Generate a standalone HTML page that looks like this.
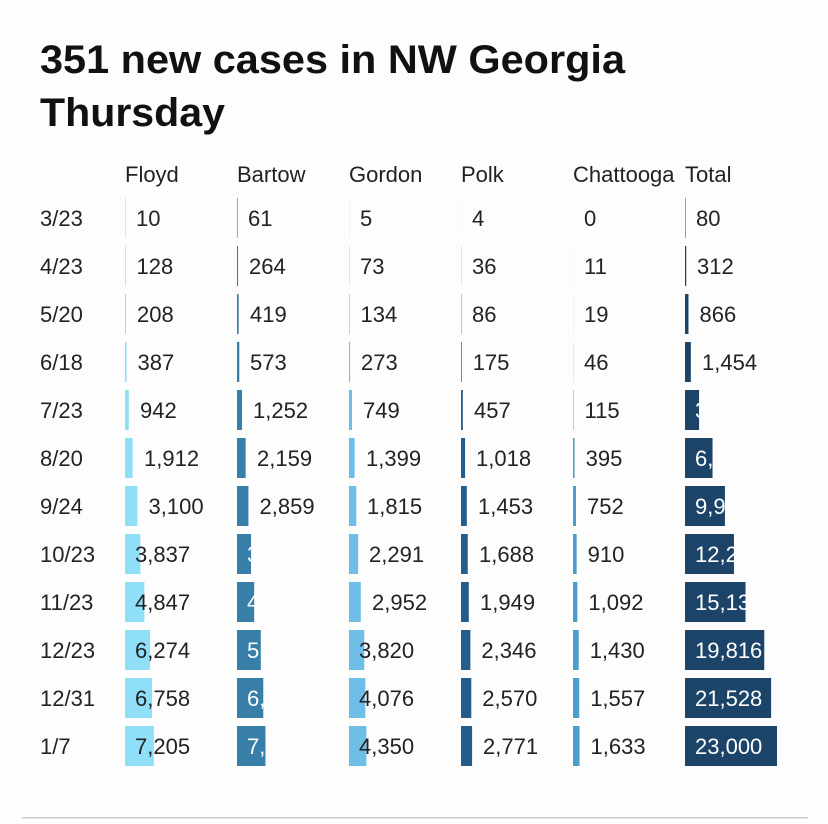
<!DOCTYPE html>
<html><head><meta charset="utf-8"><style>
html,body{margin:0;padding:0;background:#fdfdfd;}
svg{display:block;font-family:"Liberation Sans",sans-serif;}
.t{font-size:22px;fill:#222}
.w{font-size:22px;fill:#fff}
</style></head><body>
<svg width="828" height="824" viewBox="0 0 828 824">
<rect width="828" height="824" fill="#fdfdfd"/>
<text x="40" y="73" font-size="40" font-weight="bold" fill="#111" textLength="585" lengthAdjust="spacingAndGlyphs">351 new cases in NW Georgia</text>
<text x="40" y="126" font-size="40" font-weight="bold" fill="#111" textLength="185" lengthAdjust="spacingAndGlyphs">Thursday</text>
<g class="t">
<text x="125" y="182" class="t">Floyd</text><text x="237" y="182" class="t">Bartow</text><text x="349" y="182" class="t">Gordon</text><text x="461" y="182" class="t">Polk</text><text x="573" y="182" class="t">Chattooga</text><text x="685" y="182" class="t">Total</text>
</g>
<g class="t">
<text x="40" y="226" class="t">3/23</text><text x="40" y="274" class="t">4/23</text><text x="40" y="322" class="t">5/20</text><text x="40" y="370" class="t">6/18</text><text x="40" y="418" class="t">7/23</text><text x="40" y="466" class="t">8/20</text><text x="40" y="514" class="t">9/24</text><text x="40" y="562" class="t">10/23</text><text x="40" y="610" class="t">11/23</text><text x="40" y="658" class="t">12/23</text><text x="40" y="706" class="t">12/31</text><text x="40" y="754" class="t">1/7</text>
</g>
<!-- Floyd -->
<g fill="#8fdff8">
<rect x="125" y="198" width="0.5" height="40"/><rect x="125" y="246" width="0.6" height="40"/><rect x="125" y="294" width="0.9" height="40"/><rect x="125" y="342" width="1.55" height="40"/><rect x="125" y="390" width="3.77" height="40"/><rect x="125" y="438" width="7.65" height="40"/><rect x="125" y="486" width="12.4" height="40"/><rect x="125" y="534" width="15.35" height="40"/><rect x="125" y="582" width="19.39" height="40"/><rect x="125" y="630" width="25.1" height="40"/><rect x="125" y="678" width="27.03" height="40"/><rect x="125" y="726" width="28.82" height="40"/>
</g>
<text class="t" x="136" y="226">10</text><text class="t" x="136.5" y="274">128</text><text class="t" x="137" y="322">208</text><text class="t" x="137.5" y="370">387</text><text class="t" x="140" y="418">942</text><text class="t" x="144" y="466">1,912</text><text class="t" x="148.5" y="514">3,100</text><text class="t" x="135" y="562">3,837</text><text class="t" x="135" y="610">4,847</text><text class="t" x="135" y="658">6,274</text><text class="t" x="135" y="706">6,758</text><text class="t" x="135" y="754">7,205</text>
<!-- Bartow -->
<g fill="#377fa9">
<rect x="237" y="198" width="0.6" height="40"/><rect x="237" y="246" width="1.06" height="40"/><rect x="237" y="294" width="1.68" height="40"/><rect x="237" y="342" width="2.29" height="40"/><rect x="237" y="390" width="5.01" height="40"/><rect x="237" y="438" width="8.64" height="40"/><rect x="237" y="486" width="11.44" height="40"/><rect x="237" y="534" width="14.04" height="40"/><rect x="237" y="582" width="17.17" height="40"/><rect x="237" y="630" width="23.78" height="40"/><rect x="237" y="678" width="26.27" height="40"/><rect x="237" y="726" width="28.48" height="40"/>
</g>
<text class="t" x="248" y="226">61</text><text class="t" x="249" y="274">264</text><text class="t" x="250" y="322">419</text><text class="t" x="250" y="370">573</text><text class="t" x="253" y="418">1,252</text><text class="t" x="257" y="466">2,159</text><text class="t" x="259.5" y="514">2,859</text><text class="w" x="247" y="562">3,511</text><text class="w" x="247" y="610">4,292</text><text class="w" x="247" y="658">5,946</text><text class="w" x="247" y="706">6,567</text><text class="w" x="247" y="754">7,121</text>
<!-- Gordon -->
<g fill="#6fbee8">
<rect x="349" y="198" width="0.1" height="40"/><rect x="349" y="246" width="0.29" height="40"/><rect x="349" y="294" width="0.54" height="40"/><rect x="349" y="342" width="1.09" height="40"/><rect x="349" y="390" width="3.0" height="40"/><rect x="349" y="438" width="5.6" height="40"/><rect x="349" y="486" width="7.26" height="40"/><rect x="349" y="534" width="9.16" height="40"/><rect x="349" y="582" width="11.81" height="40"/><rect x="349" y="630" width="15.28" height="40"/><rect x="349" y="678" width="16.3" height="40"/><rect x="349" y="726" width="17.4" height="40"/>
</g>
<text class="t" x="360" y="226">5</text><text class="t" x="360" y="274">73</text><text class="t" x="360.5" y="322">134</text><text class="t" x="361" y="370">273</text><text class="t" x="363" y="418">749</text><text class="t" x="366" y="466">1,399</text><text class="t" x="367" y="514">1,815</text><text class="t" x="369" y="562">2,291</text><text class="t" x="372" y="610">2,952</text><text class="t" x="359" y="658">3,820</text><text class="t" x="359" y="706">4,076</text><text class="t" x="359" y="754">4,350</text>
<!-- Polk -->
<g fill="#245d8a">
<rect x="461" y="198" width="0.02" height="40"/><rect x="461" y="246" width="0.14" height="40"/><rect x="461" y="294" width="0.34" height="40"/><rect x="461" y="342" width="0.7" height="40"/><rect x="461" y="390" width="1.83" height="40"/><rect x="461" y="438" width="4.07" height="40"/><rect x="461" y="486" width="5.81" height="40"/><rect x="461" y="534" width="6.75" height="40"/><rect x="461" y="582" width="7.8" height="40"/><rect x="461" y="630" width="9.38" height="40"/><rect x="461" y="678" width="10.28" height="40"/><rect x="461" y="726" width="11.08" height="40"/>
</g>
<text class="t" x="472" y="226">4</text><text class="t" x="472" y="274">36</text><text class="t" x="472" y="322">86</text><text class="t" x="472.7" y="370">175</text><text class="t" x="474" y="418">457</text><text class="t" x="476" y="466">1,018</text><text class="t" x="478" y="514">1,453</text><text class="t" x="479" y="562">1,688</text><text class="t" x="480" y="610">1,949</text><text class="t" x="481.4" y="658">2,346</text><text class="t" x="482.3" y="706">2,570</text><text class="t" x="483" y="754">2,771</text>
<!-- Chattooga -->
<g fill="#4a9fcb">
<rect x="573" y="246" width="0.04" height="40"/><rect x="573" y="294" width="0.08" height="40"/><rect x="573" y="342" width="0.18" height="40"/><rect x="573" y="390" width="0.46" height="40"/><rect x="573" y="438" width="1.58" height="40"/><rect x="573" y="486" width="3.01" height="40"/><rect x="573" y="534" width="3.64" height="40"/><rect x="573" y="582" width="4.37" height="40"/><rect x="573" y="630" width="5.72" height="40"/><rect x="573" y="678" width="6.23" height="40"/><rect x="573" y="726" width="6.53" height="40"/>
</g>
<text class="t" x="584" y="226">0</text><text class="t" x="584" y="274">11</text><text class="t" x="584" y="322">19</text><text class="t" x="584" y="370">46</text><text class="t" x="584.5" y="418">115</text><text class="t" x="585.6" y="466">395</text><text class="t" x="587" y="514">752</text><text class="t" x="587.6" y="562">910</text><text class="t" x="588.4" y="610">1,092</text><text class="t" x="589.7" y="658">1,430</text><text class="t" x="590.2" y="706">1,557</text><text class="t" x="590.5" y="754">1,633</text>
<!-- Total -->
<g fill="#1c4469">
<rect x="685" y="198" width="0.5" height="40"/><rect x="685" y="246" width="1.25" height="40"/><rect x="685" y="294" width="3.46" height="40"/><rect x="685" y="342" width="5.82" height="40"/><rect x="685" y="390" width="14.06" height="40"/><rect x="685" y="438" width="27.53" height="40"/><rect x="685" y="486" width="39.92" height="40"/><rect x="685" y="534" width="48.95" height="40"/><rect x="685" y="582" width="60.53" height="40"/><rect x="685" y="630" width="79.26" height="40"/><rect x="685" y="678" width="86.11" height="40"/><rect x="685" y="726" width="92" height="40"/>
</g>
<text class="t" x="696" y="226">80</text><text class="t" x="697" y="274">312</text><text class="t" x="699.5" y="322">866</text><text class="t" x="702" y="370">1,454</text><text class="w" x="695" y="418">3,515</text><text class="w" x="695" y="466">6,883</text><text class="w" x="695" y="514">9,979</text><text class="w" x="695" y="562">12,237</text><text class="w" x="695" y="610">15,132</text><text class="w" x="695" y="658">19,816</text><text class="w" x="695" y="706">21,528</text><text class="w" x="695" y="754">23,000</text>
<rect x="22" y="817" width="786" height="1.5" fill="#ccc"/>
</svg>
</body></html>
